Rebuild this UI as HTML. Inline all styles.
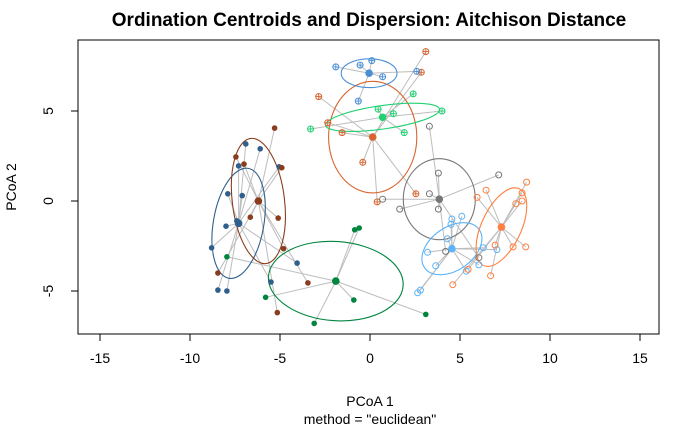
<!DOCTYPE html>
<html><head><meta charset="utf-8">
<style>
html,body{margin:0;padding:0;background:#fff;}
svg{display:block;font-family:"Liberation Sans",Arial,sans-serif;}
</style></head>
<body>
<svg id="chart" width="700" height="432" viewBox="0 0 700 432" xmlns="http://www.w3.org/2000/svg">
<text x="369" y="26" text-anchor="middle" font-size="19" font-weight="bold">Ordination Centroids and Dispersion: Aitchison Distance</text>
<rect x="78" y="40" width="581" height="294" fill="none" stroke="#000" stroke-width="1"/>
<g id="axes"></g>
<g id="spokes"></g>
<g id="ellipses"></g>
<g id="points"></g>
<text x="370" y="406" text-anchor="middle" font-size="14">PCoA 1</text>
<text x="370" y="424" text-anchor="middle" font-size="14">method = "euclidean"</text>
<text x="16" y="187" text-anchor="middle" font-size="14" transform="rotate(-90 16 187)">PCoA 2</text>
</svg>
<script>
const xTicks = [-15, -10, -5, 0, 5, 10, 15];
const yTicks = [-5, 0, 5];
const groupNames = ["dark-blue","brown","dark-green","red-orange","blue","green","gray","light-blue","orange"];
const groupColors = ["#2f5f8c","#8a3d1c","#00853f","#d8642e","#4a8fd6","#22d072","#777777","#5cb3fb","#ff7f3f"];
const groupShapes = ["fill","fill","fill","plus","plus","plus","open","open","open"];
const centroidX = [-7.3,-6.2,-1.9,0.15,-0.05,0.7,3.85,4.55,7.3];
const centroidY = [-1.24,0.0,-4.45,3.55,7.1,4.65,0.1,-2.65,-1.45];
const ellipseA = [3.1,3.5,3.75,3.1,1.55,3.2,2.0,1.85,2.35];
const ellipseB = [1.4,1.45,2.2,2.45,0.8,0.65,2.25,1.2,1.1];
const ellipseAngle = [80,97,-4,90,0,8,0,35,65];
const pointsX = [
 [-6.9,-6.1,-7.3,-5.05,-7.9,-7.1,-8.0,-8.8,-4.05,-5.5,-8.45,-7.95,-7.4],
 [-5.3,-7.45,-7.0,-4.9,-6.65,-5.1,-4.8,-8.45,-3.45,-5.15],
 [-0.85,-0.6,-7.95,-5.8,-0.9,3.1,-3.1],
 [3.1,2.85,-2.85,-2.35,-1.55,-0.4,2.55,0.4],
 [-1.9,-0.55,0.1,0.7,2.6,-0.65],
 [2.4,4.0,0.45,1.3,1.9,-3.3],
 [3.8,7.15,3.3,0.7,1.65,3.8,4.2,6.05,3.3],
 [5.1,4.55,4.5,4.3,3.2,6.3,7.05,6.05,5.35,3.65,2.8,2.65],
 [8.7,6.45,8.45,8.45,8.1,5.95,6.95,7.95,8.65,5.45,6.7,4.6]
];
const pointsY = [
 [3.17,2.9,1.95,1.9,0.4,0.3,-1.4,-2.6,-3.45,-4.5,-4.95,-5.0,-1.1],
 [4.05,2.45,2.05,1.85,-0.9,-0.95,-2.65,-4.0,-4.55,-6.2],
 [-1.6,-1.5,-3.1,-5.35,-5.5,-6.3,-6.8],
 [8.3,7.15,5.8,4.35,3.8,2.15,0.4,-0.05],
 [7.45,7.55,7.8,6.9,7.2,5.55],
 [5.95,5.0,5.1,4.85,3.8,4.0],
 [1.55,1.45,0.4,0.1,-0.45,-0.45,-2.8,-3.15,4.15],
 [-0.85,-1.0,-1.3,-2.1,-2.85,-2.6,-2.7,-3.55,-3.9,-3.6,-4.95,-5.1],
 [1.05,0.6,0.45,0.0,-0.15,0.2,-2.45,-2.55,-2.55,-3.8,-4.15,-4.65]
];

const NS = "http://www.w3.org/2000/svg";
const X0 = 370, Y0 = 201, S = 18;
function sx(v){ return X0 + v * S; }
function sy(v){ return Y0 - v * S; }
function mk(tag, attrs, parent){
  const e = document.createElementNS(NS, tag);
  for (const k in attrs) e.setAttribute(k, attrs[k]);
  parent.appendChild(e);
  return e;
}
const axes = document.getElementById('axes');
const xl = mk('line',{x1:sx(xTicks[0]),x2:sx(xTicks[xTicks.length-1]),y1:334,y2:334,stroke:'#000'},axes);


xTicks.forEach(t=>{
  const tk = mk('line',{x1:sx(t),x2:sx(t),y1:334,y2:341,stroke:'#000'},axes);
  
  
  const tx = mk('text',{x:sx(t),y:363,'text-anchor':'middle','font-size':14},axes);
  tx.textContent = t;
  
  
});
const yl = mk('line',{x1:78,x2:78,y1:sy(yTicks[0]),y2:sy(yTicks[yTicks.length-1]),stroke:'#000'},axes);


yTicks.forEach(t=>{
  const tk = mk('line',{x1:71,x2:78,y1:sy(t),y2:sy(t),stroke:'#000'},axes);
  
  
  const tx = mk('text',{x:53,y:sy(t),'text-anchor':'middle','font-size':14,transform:`rotate(-90 53 ${sy(t)})`},axes);
  tx.textContent = t;
  
  
});

const spokes = document.getElementById('spokes');
const ell = document.getElementById('ellipses');
const pts = document.getElementById('points');
groupNames.forEach((g,i)=>{
  const cx = sx(centroidX[i]), cy = sy(centroidY[i]), col = groupColors[i];
  pointsX[i].forEach((px,j)=>{
    const l = mk('line',{x1:cx,y1:cy,x2:sx(px),y2:sy(pointsY[i][j]),stroke:'#bdbdbd','stroke-width':1},spokes);
    
    
  });
  const e = mk('ellipse',{cx:cx,cy:cy,rx:ellipseA[i]*S,ry:ellipseB[i]*S,fill:'none',stroke:col,'stroke-width':1.1,transform:`rotate(${-ellipseAngle[i]} ${cx} ${cy})`},ell);
  
  
  pointsX[i].forEach((px,j)=>{
    const x = sx(px), y = sy(pointsY[i][j]);
    const grp = mk('g',{},pts);
    
    
    if (groupShapes[i]==='fill'){
      mk('circle',{cx:x,cy:y,r:2.8,fill:col},grp);
    } else if (groupShapes[i]==='plus'){
      mk('circle',{cx:x,cy:y,r:3,fill:'none',stroke:col,'stroke-width':1},grp);
      mk('path',{d:`M${x-3} ${y}H${x+3}M${x} ${y-3}V${y+3}`,stroke:col,'stroke-width':0.9},grp);
    } else {
      mk('circle',{cx:x,cy:y,r:3,fill:'none',stroke:col,'stroke-width':1},grp);
    }
  });
  const c = mk('circle',{cx:cx,cy:cy,r:3.8,fill:col},pts);
  
  
});
</script>
</body></html>
